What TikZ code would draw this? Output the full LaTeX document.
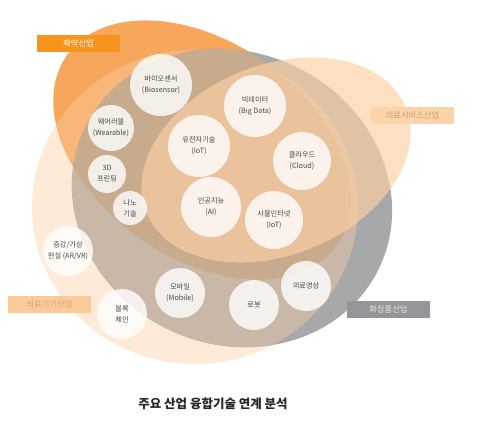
\documentclass[tikz,border=0pt]{standalone}
\usepackage{fontspec}
\setmainfont{Noto Sans CJK KR}
\definecolor{cOrange}{RGB}{247,167,92}
\definecolor{cDev}{RGB}{250,205,160}
\definecolor{cGrey}{RGB}{167,168,170}
\definecolor{cGreyDev}{RGB}{201,184,167}
\definecolor{cGreyOr}{RGB}{200,170,141}
\definecolor{cServ}{RGB}{252,207,164}
\definecolor{cTxt}{RGB}{72,72,72}
\definecolor{lOrange}{RGB}{247,148,30}
\definecolor{lServ}{RGB}{252,212,168}
\definecolor{lServT}{RGB}{196,156,122}
\definecolor{lDev}{RGB}{251,203,151}
\definecolor{lDevT}{RGB}{214,166,122}
\definecolor{lGrey}{RGB}{147,149,152}
\definecolor{lGreyT}{RGB}{232,232,232}
\tikzset{
  shO/.style={shift={(202,150)}, rotate=-35},
  shG/.style={shift={(232,198)}, rotate=-25},
  shS/.style={shift={(276,160)}, rotate=22},
  shM/.style={shift={(195,207)}},
  tech/.style={circle, fill=white, fill opacity=0.8, text opacity=1, text=cTxt,
    font=\fontsize{7.2}{11}\selectfont, align=center, inner sep=0pt},
  lab/.style={minimum width=83pt, minimum height=17pt, inner sep=0pt,
    font=\fontsize{8.3}{10}\selectfont}
}
\begin{document}
\begin{tikzpicture}[x=1pt,y=-1pt]
\path[use as bounding box] (0,0) rectangle (486,423);
% industries
\fill[cOrange, shO] (0,0) ellipse [x radius=165, y radius=108];
\fill[cDev, fill opacity=0.42, shM] (0,0) ellipse [x radius=163, y radius=157];
\fill[cGrey, shG] (0,0) ellipse [x radius=163, y radius=146];
\begin{scope}
  \clip[shG] (0,0) ellipse [x radius=163, y radius=146];
  \fill[cGreyDev, shM] (0,0) ellipse [x radius=163, y radius=157];
  \fill[cGreyOr, shO] (0,0) ellipse [x radius=165, y radius=108];
\end{scope}
\fill[cServ, fill opacity=0.67, shS] (0,0) ellipse [x radius=140, y radius=95];
% technologies
\node[tech, minimum size=62pt] (bio) at (161,85) {바이오센서\\(Biosensor)};
\node[tech, minimum size=46pt] (wear) at (111,128) {웨어러블\\(Wearable)};
\node[tech, minimum size=38pt] (print) at (107,174) {3D\\프린팅};
\node[tech, minimum size=34pt] (nano) at (130,208) {나노\\기술};
\node[tech, minimum size=62pt] (gene) at (199,146) {유전자기술\\(IoT)};
\node[tech, minimum size=60pt] (ai) at (211,207) {인공지능\\(AI)};
\node[tech, minimum size=62pt] (big) at (255,106) {빅데이터\\(Big Data)};
\node[tech, minimum size=58pt] (cloud) at (302,161) {클라우드\\(Cloud)};
\node[tech, minimum size=58pt] (iot) at (274,220) {사물인터넷\\(IoT)};
\node[tech, minimum size=50pt] (arvr) at (68,251) {증강/가상\\현실 (AR/VR)};
\node[tech, minimum size=50pt] (block) at (122,314) {블록\\체인};
\node[tech, minimum size=50pt] (mobile) at (180,293) {모바일\\(Mobile)};
\node[tech, minimum size=50pt] (robot) at (254,305) {로봇};
\node[tech, minimum size=50pt] (image) at (306,286) {의료영상};
% industry labels
\node[lab, fill=lOrange, text=white] (lph) at (78.5,43.5) {제약산업};
\node[lab, fill=lServ, text=lServT] (lsv) at (412.5,115.5) {의료서비스산업};
\node[lab, fill=lDev, text=lDevT] (ldv) at (49.5,304.5) {의료기기산업};
\node[lab, fill=lGrey, text=lGreyT] (lcs) at (388.5,309.5) {화장품산업};
% title
\node[font=\fontsize{12.5}{14}\selectfont\bfseries, text=black!85] (title) at (213,404) {주요 산업 융합기술 연계 분석};
\end{tikzpicture}
\end{document}
